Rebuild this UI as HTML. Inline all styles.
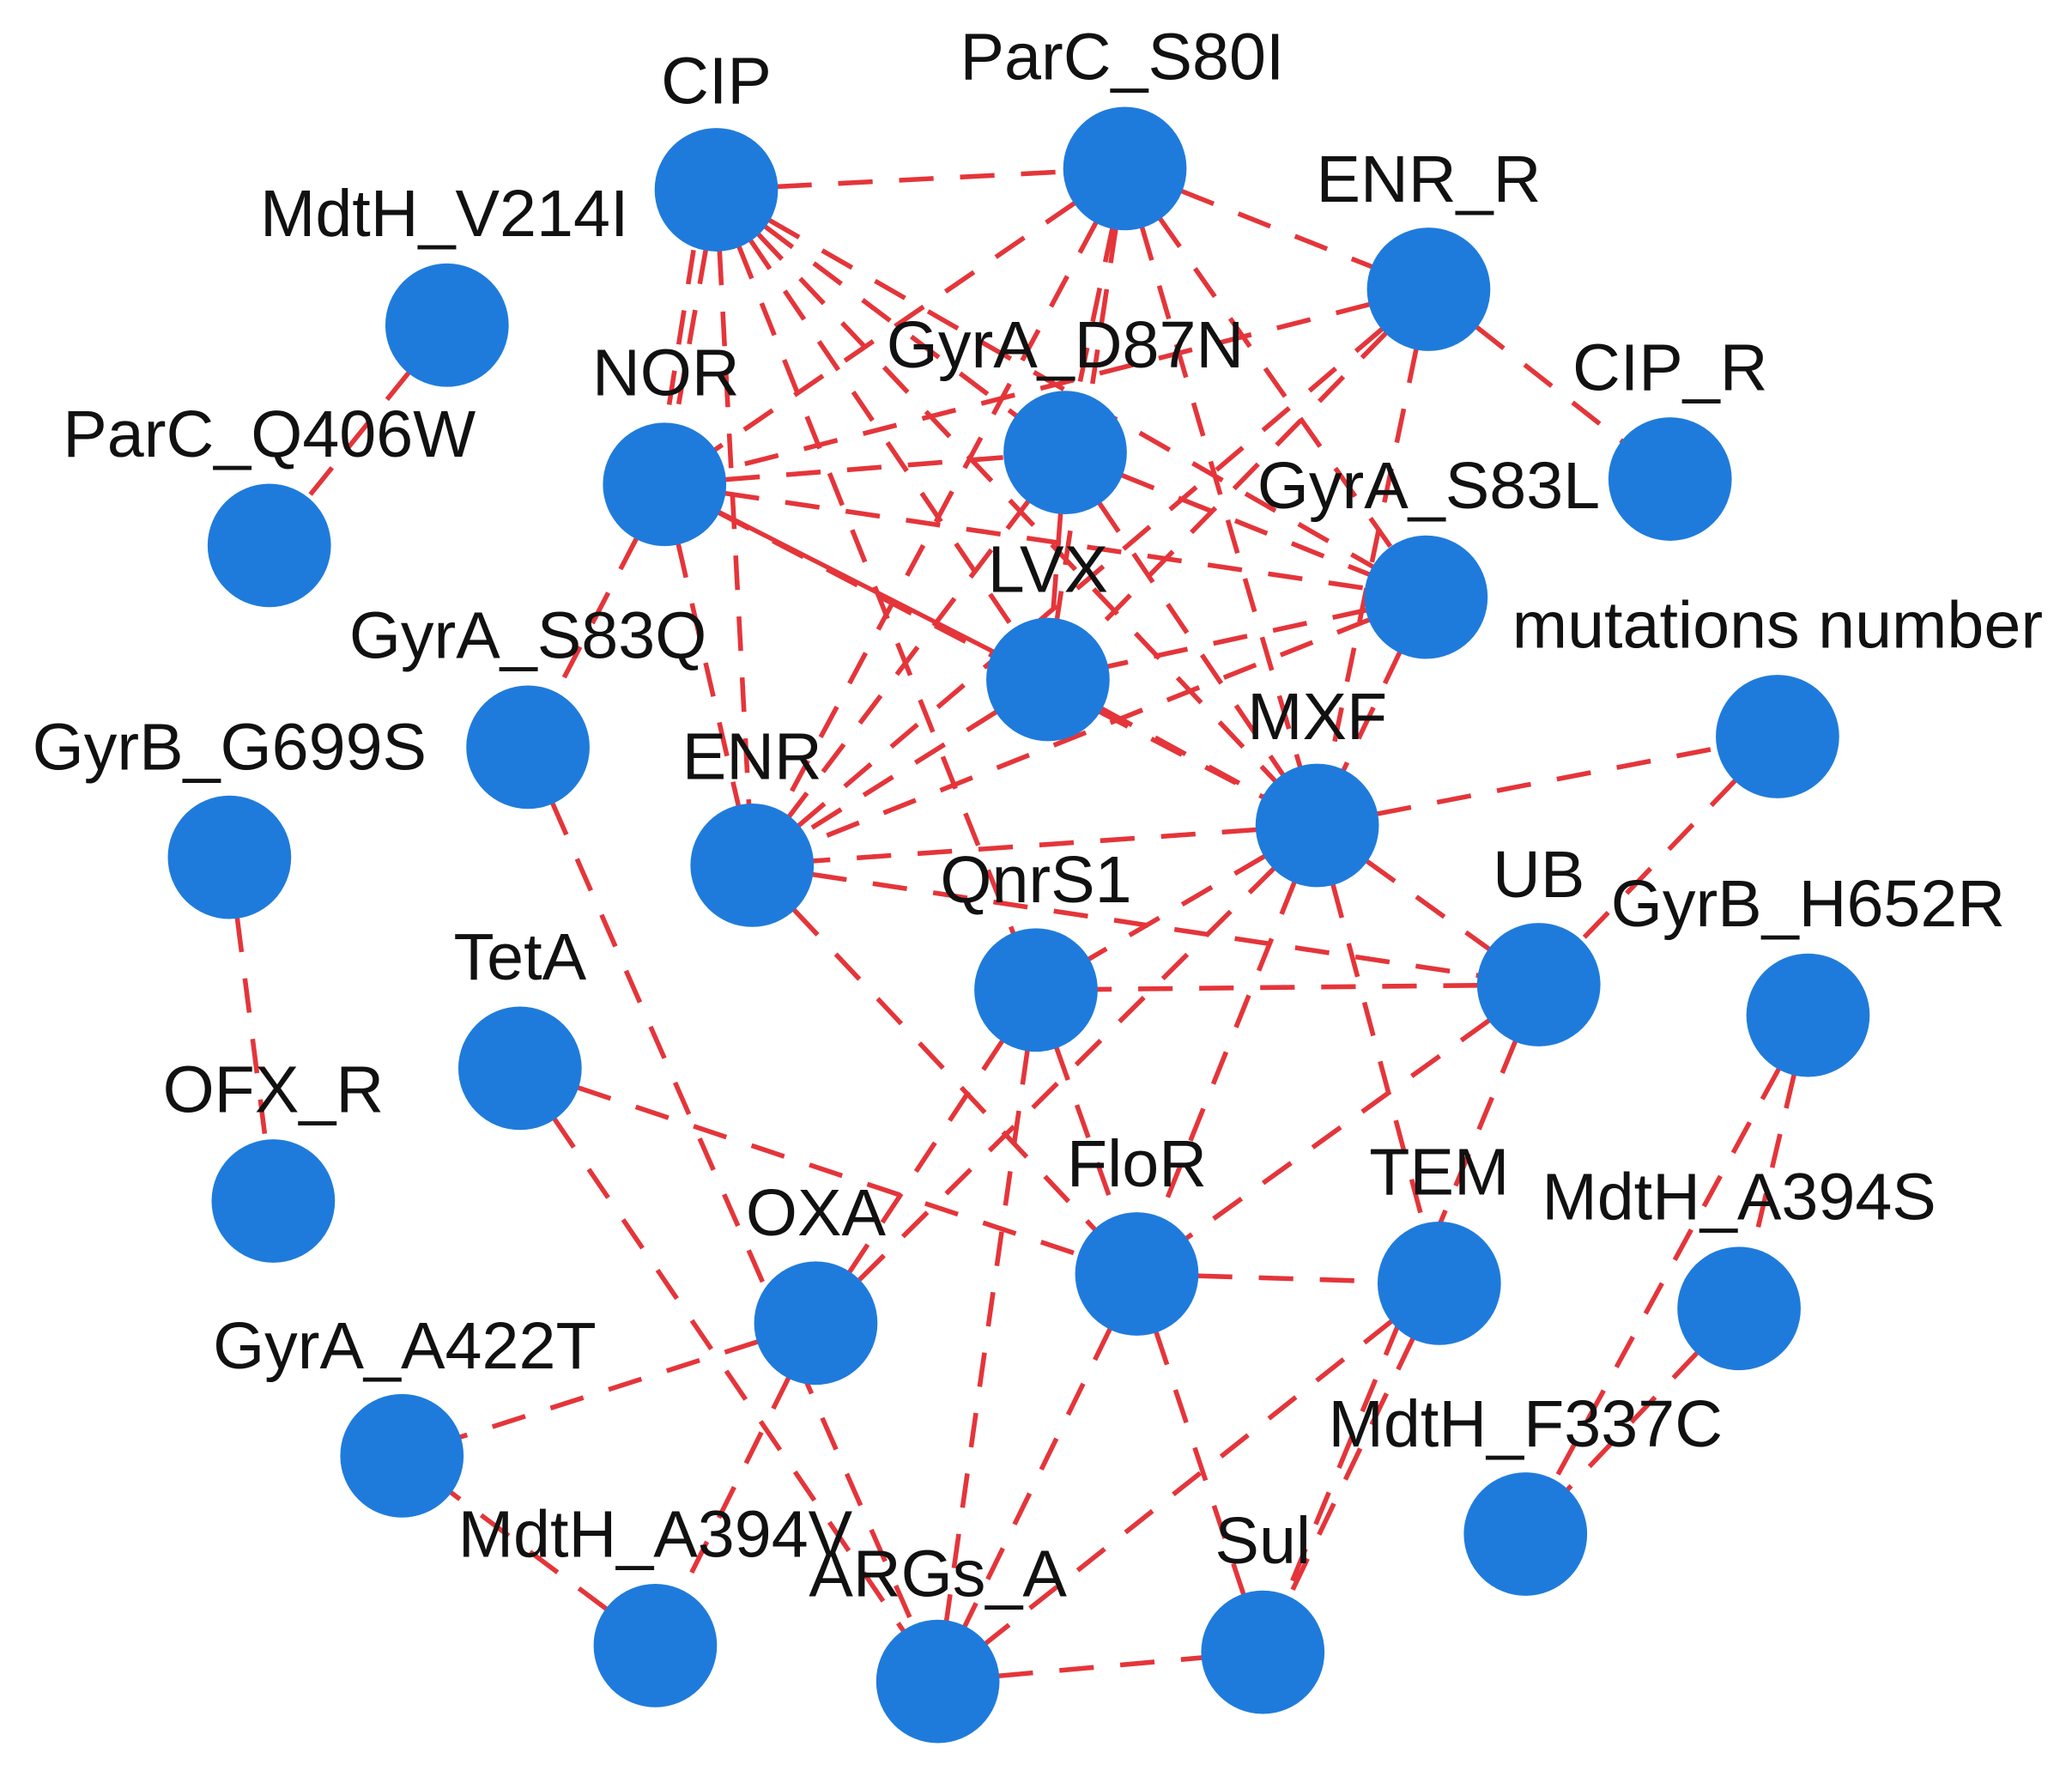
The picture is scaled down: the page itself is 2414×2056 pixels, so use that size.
<!DOCTYPE html>
<html><head><meta charset="utf-8"><style>
html,body{margin:0;padding:0;background:#fff;}
svg{display:block;}
text{font-family:"Liberation Sans",sans-serif;font-size:50px;fill:#111;text-anchor:middle;}
</style></head><body>
<svg width="2414" height="2056" viewBox="0 0 1562 1330" preserveAspectRatio="none" xmlns="http://www.w3.org/2000/svg">
<g stroke="#e4353a" stroke-width="3.6" stroke-dasharray="26 20" fill="none">
<line x1="540" y1="143" x2="848" y2="127"/>
<line x1="540" y1="143" x2="501" y2="365"/>
<line x1="530" y1="143" x2="495" y2="365"/>
<line x1="540" y1="143" x2="567" y2="652"/>
<line x1="540" y1="143" x2="790" y2="512"/>
<line x1="540" y1="143" x2="993" y2="622"/>
<line x1="540" y1="143" x2="803" y2="341"/>
<line x1="540" y1="143" x2="1075" y2="450"/>
<line x1="540" y1="143" x2="781" y2="746"/>
<line x1="848" y1="127" x2="1077" y2="218"/>
<line x1="848" y1="127" x2="501" y2="365"/>
<line x1="848" y1="127" x2="803" y2="341"/>
<line x1="848" y1="127" x2="790" y2="512"/>
<line x1="848" y1="127" x2="993" y2="622"/>
<line x1="848" y1="127" x2="1075" y2="450"/>
<line x1="848" y1="127" x2="567" y2="652"/>
<line x1="1077" y1="218" x2="1259" y2="361"/>
<line x1="1077" y1="218" x2="501" y2="365"/>
<line x1="1077" y1="218" x2="567" y2="652"/>
<line x1="1077" y1="218" x2="790" y2="512"/>
<line x1="1077" y1="218" x2="993" y2="622"/>
<line x1="337" y1="245" x2="203" y2="411"/>
<line x1="501" y1="365" x2="803" y2="341"/>
<line x1="501" y1="365" x2="1075" y2="450"/>
<line x1="501" y1="365" x2="993" y2="622"/>
<line x1="501" y1="365" x2="567" y2="652"/>
<line x1="501" y1="365" x2="398" y2="563"/>
<line x1="803" y1="341" x2="567" y2="652"/>
<line x1="803" y1="341" x2="1075" y2="450"/>
<line x1="803" y1="341" x2="993" y2="622"/>
<line x1="803" y1="341" x2="790" y2="512"/>
<line x1="1075" y1="450" x2="567" y2="652"/>
<line x1="1075" y1="450" x2="790" y2="512"/>
<line x1="1075" y1="450" x2="993" y2="622"/>
<line x1="790" y1="512" x2="567" y2="652"/>
<line x1="790" y1="512" x2="993" y2="622"/>
<line x1="993" y1="622" x2="567" y2="652"/>
<line x1="993" y1="622" x2="1340" y2="555"/>
<line x1="993" y1="622" x2="1160" y2="742"/>
<line x1="993" y1="622" x2="781" y2="746"/>
<line x1="993" y1="622" x2="857" y2="960"/>
<line x1="993" y1="622" x2="1085" y2="967"/>
<line x1="993" y1="622" x2="615" y2="997"/>
<line x1="567" y1="652" x2="1160" y2="742"/>
<line x1="567" y1="652" x2="857" y2="960"/>
<line x1="1340" y1="555" x2="1160" y2="742"/>
<line x1="1160" y1="742" x2="781" y2="746"/>
<line x1="1160" y1="742" x2="857" y2="960"/>
<line x1="1160" y1="742" x2="952" y2="1245"/>
<line x1="173" y1="646" x2="206" y2="905"/>
<line x1="398" y1="563" x2="707" y2="1267"/>
<line x1="392" y1="805" x2="707" y2="1267"/>
<line x1="392" y1="805" x2="857" y2="960"/>
<line x1="781" y1="746" x2="857" y2="960"/>
<line x1="781" y1="746" x2="615" y2="997"/>
<line x1="781" y1="746" x2="707" y2="1267"/>
<line x1="615" y1="997" x2="303" y2="1097"/>
<line x1="615" y1="997" x2="494" y2="1240"/>
<line x1="494" y1="1240" x2="303" y2="1097"/>
<line x1="857" y1="960" x2="1085" y2="967"/>
<line x1="857" y1="960" x2="707" y2="1267"/>
<line x1="857" y1="960" x2="952" y2="1245"/>
<line x1="1085" y1="967" x2="707" y2="1267"/>
<line x1="1085" y1="967" x2="952" y2="1245"/>
<line x1="707" y1="1267" x2="952" y2="1245"/>
<line x1="1311" y1="986" x2="1150" y2="1156"/>
<line x1="1363" y1="765" x2="1150" y2="1156"/>
<line x1="1363" y1="765" x2="1311" y2="986"/>
</g>
<line x1="501" y1="365" x2="790" y2="512" stroke="#e4353a" stroke-width="3.4"/>
<g fill="#1f7bdb">
<circle cx="540" cy="143" r="46.5"/>
<circle cx="848" cy="127" r="46.5"/>
<circle cx="1077" cy="218" r="46.5"/>
<circle cx="337" cy="245" r="46.5"/>
<circle cx="1259" cy="361" r="46.5"/>
<circle cx="501" cy="365" r="46.5"/>
<circle cx="803" cy="341" r="46.5"/>
<circle cx="203" cy="411" r="46.5"/>
<circle cx="1075" cy="450" r="46.5"/>
<circle cx="790" cy="512" r="46.5"/>
<circle cx="398" cy="563" r="46.5"/>
<circle cx="1340" cy="555" r="46.5"/>
<circle cx="173" cy="646" r="46.5"/>
<circle cx="567" cy="652" r="46.5"/>
<circle cx="993" cy="622" r="46.5"/>
<circle cx="781" cy="746" r="46.5"/>
<circle cx="1160" cy="742" r="46.5"/>
<circle cx="1363" cy="765" r="46.5"/>
<circle cx="392" cy="805" r="46.5"/>
<circle cx="206" cy="905" r="46.5"/>
<circle cx="857" cy="960" r="46.5"/>
<circle cx="1085" cy="967" r="46.5"/>
<circle cx="1311" cy="986" r="46.5"/>
<circle cx="615" cy="997" r="46.5"/>
<circle cx="303" cy="1097" r="46.5"/>
<circle cx="1150" cy="1156" r="46.5"/>
<circle cx="494" cy="1240" r="46.5"/>
<circle cx="707" cy="1267" r="46.5"/>
<circle cx="952" cy="1245" r="46.5"/>
</g>
<g>
<text x="540" y="78">CIP</text>
<text x="846" y="60">ParC_S80I</text>
<text x="1077" y="152">ENR_R</text>
<text x="335" y="178">MdtH_V214I</text>
<text x="1259" y="294">CIP_R</text>
<text x="502" y="298">NOR</text>
<text x="803" y="277">GyrA_D87N</text>
<text x="203" y="344">ParC_Q406W</text>
<text x="1077" y="383">GyrA_S83L</text>
<text x="790" y="446">LVX</text>
<text x="398" y="496">GyrA_S83Q</text>
<text x="1340" y="488">mutations number</text>
<text x="173" y="580">GyrB_G699S</text>
<text x="567" y="587">ENR</text>
<text x="993" y="557">MXF</text>
<text x="781" y="680">QnrS1</text>
<text x="1160" y="676">UB</text>
<text x="1363" y="698">GyrB_H652R</text>
<text x="392" y="738">TetA</text>
<text x="206" y="838">OFX_R</text>
<text x="857" y="894">FloR</text>
<text x="1085" y="900">TEM</text>
<text x="1311" y="919">MdtH_A394S</text>
<text x="615" y="931">OXA</text>
<text x="305" y="1031">GyrA_A422T</text>
<text x="1150" y="1090">MdtH_F337C</text>
<text x="494" y="1173">MdtH_A394V</text>
<text x="707" y="1203">ARGs_A</text>
<text x="952" y="1178">Sul</text>
</g>
</svg>
</body></html>
